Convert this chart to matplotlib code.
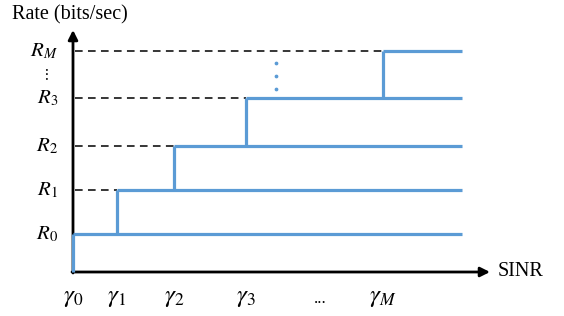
import matplotlib
matplotlib.use('Agg')
import matplotlib.pyplot as plt

plt.rcParams['mathtext.fontset'] = 'stix'
plt.rcParams['font.family'] = 'Liberation Serif'

# SINR thresholds (gamma_0 ... gamma_M) and rate levels (R_0 ... R_M), arbitrary units
gamma = [0, 44, 101, 173, 310]
rates = [38, 82, 126, 174, 221]
x_end = 389
gamma_labels = [r'$\gamma_0$', r'$\gamma_1$', r'$\gamma_2$', r'$\gamma_3$', r'$\gamma_M$']
rate_labels = [r'$R_0$', r'$R_1$', r'$R_2$', r'$R_3$', r'$R_M$']

blue = '#5b9bd5'

fig = plt.figure(figsize=(5.64, 3.16), dpi=100)
ax = fig.add_axes([0, 0, 1, 1])
ax.set_xlim(-73, 564 - 73)
ax.set_ylim(272 - 316, 272)
ax.axis('off')

# axes with arrows
ax.annotate('', xy=(0, 242), xytext=(0, -1),
            arrowprops=dict(arrowstyle='-|>', color='black', lw=2, mutation_scale=14, shrinkA=0, shrinkB=0))
ax.annotate('', xy=(417, 0), xytext=(-1, 0),
            arrowprops=dict(arrowstyle='-|>', color='black', lw=2, mutation_scale=14, shrinkA=0, shrinkB=0))

# step curve
for i in range(len(rates)):
    g = gamma[i]
    lo = 0 if i == 0 else rates[i - 1]
    ax.plot([g, g], [lo, rates[i]], color=blue, lw=2.3, solid_capstyle='butt', zorder=3)
    ax.plot([g, x_end], [rates[i], rates[i]], color=blue, lw=2.3, solid_capstyle='butt', zorder=3)
    if i > 0:
        ax.plot([2, g], [rates[i], rates[i]], color='black', lw=1.1, ls=(0, (5, 3.5)), zorder=2)

# vertical dots between R_3 and R_M
ax.plot([203, 203, 203], [209, 196, 183], 'o', color=blue, ms=1.7, zorder=3)

# labels
for r, lab in zip(rates, rate_labels):
    ax.text(-15, r, lab, ha='right', va='center', fontsize=15)
ax.text(-28, 197, r'$\vdots$', ha='center', va='center', fontsize=11)
for g, lab in zip(gamma, gamma_labels):
    ax.text(g, -26, lab, ha='center', va='center', fontsize=18)
ax.text(247, -27, '...', ha='center', va='center', fontsize=12)

ax.text(-61, 257, 'Rate (bits/sec)', ha='left', va='center', fontsize=14.5)
ax.text(425, 0, 'SINR', ha='left', va='center', fontsize=14.5)

fig.savefig('out.png', dpi=100)
